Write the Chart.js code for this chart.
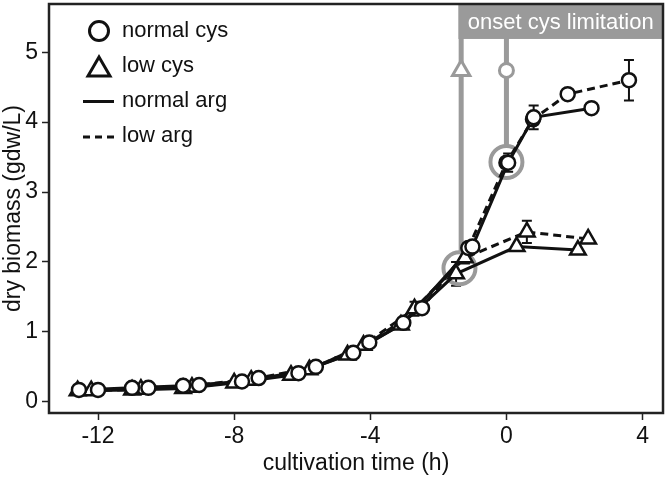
<!DOCTYPE html>
<html>
<head>
<meta charset="utf-8">
<script src="https://cdn.jsdelivr.net/npm/chart.js@4.4.0/dist/chart.umd.min.js"></script>
<style>
  html, body { margin: 0; padding: 0; background: #fff; }
</style>
</head>
<body>
<canvas id="biomass-chart" width="665" height="477"></canvas>
<script>
// cultivation time (h) and dry biomass (gdw/L)
// normal cys + normal arg : circles, solid line
const ncNaTime    = [-12.56, -11.0, -9.5, -7.77, -6.11, -4.5, -3.03, -1.0, 0.05, 0.8, 2.5]
const ncNaBiomass = [0.17, 0.2, 0.23, 0.29, 0.41, 0.7, 1.13, 2.22, 3.42, 4.07, 4.2]
const ncNaErr     = [0, 0, 0, 0, 0, 0, 0, 0, 0.13, 0.17, 0]

// normal cys + low arg : circles, dashed line
const ncLaTime    = [-12.0, -10.52, -9.03, -7.28, -5.6, -4.03, -2.48, -1.12, 0.0, 0.78, 1.8, 3.6]
const ncLaBiomass = [0.17, 0.2, 0.24, 0.34, 0.5, 0.85, 1.34, 2.2, 3.42, 4.04, 4.4, 4.6]
const ncLaErr     = [0, 0, 0, 0, 0, 0, 0, 0, 0, 0, 0, 0.29]

// low cys + normal arg : triangles, solid line
const lcNaTime    = [-12.6, -11.0, -9.5, -8.0, -6.33, -4.67, -3.1, -1.48, 0.3, 2.1]
const lcNaBiomass = [0.16, 0.17, 0.19, 0.27, 0.38, 0.67, 1.1, 1.83, 2.22, 2.17]
const lcNaErr     = [0, 0, 0, 0, 0, 0, 0, 0.17, 0, 0]

// low cys + low arg : triangles, dashed line
const lcLaTime    = [-12.2, -10.74, -9.24, -7.5, -5.79, -4.2, -2.7, -1.22, 0.6, 2.4]
const lcLaBiomass = [0.16, 0.18, 0.21, 0.31, 0.46, 0.81, 1.33, 2.06, 2.43, 2.33]
const lcLaErr     = [0, 0, 0, 0, 0, 0, 0.1, 0.08, 0.16, 0]

// onset of cys limitation (low cys, normal cys)
const onsetTimes       = [-1.33, 0.0]
const onsetMarkerLevel = [4.74, 4.74]
const onsetLineEnds    = [2.15, 3.67]
const highlightTimes   = [-1.38, 0.0]
const highlightBiomass = [1.91, 3.43]
const onsetLabel       = 'onset cys limitation'
const onsetBoxStart    = -1.41
const onsetBoxBottom   = 5.19

const xTicks = [-12, -8, -4, 0, 4]
const yTicks = [0, 1, 2, 3, 4, 5]
const legendLabels = ['normal cys', 'low cys', 'normal arg', 'low arg']

const ink = '#111'
const gray = '#9a9a9a'
const fontFamily = '"Liberation Sans", Arial, sans-serif'

const toPoints = (xs, ys) => xs.map((x, i) => ({ x: x, y: ys[i] }))

const seriesList = [
  { time: ncNaTime, biomass: ncNaBiomass, err: ncNaErr, marker: 'circle', dashed: false },
  { time: ncLaTime, biomass: ncLaBiomass, err: ncLaErr, marker: 'circle', dashed: true },
  { time: lcNaTime, biomass: lcNaBiomass, err: lcNaErr, marker: 'triangle', dashed: false },
  { time: lcLaTime, biomass: lcLaBiomass, err: lcLaErr, marker: 'triangle', dashed: true }
]

let datasets = []

// markers on top
seriesList.forEach((s) => {
  datasets.push({
    data: toPoints(s.time, s.biomass),
    showLine: false,
    pointStyle: s.marker,
    pointRadius: s.marker === 'circle' ? 7 : 9,
    pointBorderWidth: 2.5,
    pointBorderColor: ink,
    pointBackgroundColor: '#fff',
    order: 0
  })
})

// the connecting lines
seriesList.forEach((s) => {
  datasets.push({
    data: toPoints(s.time, s.biomass),
    showLine: true,
    borderColor: ink,
    borderWidth: 3,
    borderDash: s.dashed ? [8, 5] : [],
    pointRadius: 0,
    order: 1
  })
})

// gray onset markers
datasets.push({
  data: toPoints(onsetTimes, onsetMarkerLevel),
  showLine: false,
  pointStyle: ['triangle', 'circle'],
  pointRadius: [10, 7],
  pointBorderWidth: 3,
  pointBorderColor: gray,
  pointBackgroundColor: '#fff',
  order: 0
})

// gray highlight rings
datasets.push({
  data: toPoints(highlightTimes, highlightBiomass),
  showLine: false,
  pointStyle: 'circle',
  pointRadius: 16,
  pointBorderWidth: 4,
  pointBorderColor: gray,
  pointBackgroundColor: 'rgba(0,0,0,0)',
  order: 2
})

// gray vertical onset lines
onsetTimes.forEach((t, i) => {
  datasets.push({
    data: [{ x: t, y: 5.8 }, { x: t, y: onsetLineEnds[i] }],
    showLine: true,
    borderColor: gray,
    borderWidth: 5,
    pointRadius: 0,
    order: 3
  })
})

const errorBars = {
  id: 'errorBars',
  beforeDatasetsDraw(chart) {
    const c = chart.ctx
    const xs = chart.scales.x
    const ys = chart.scales.y
    c.save()
    c.strokeStyle = ink
    c.lineWidth = 2
    seriesList.forEach((s) => {
      s.err.forEach((e, i) => {
        if (!e) return
        const px = xs.getPixelForValue(s.time[i])
        const top = ys.getPixelForValue(s.biomass[i] + e)
        const bot = ys.getPixelForValue(s.biomass[i] - e)
        c.beginPath()
        c.moveTo(px, top); c.lineTo(px, bot)
        c.moveTo(px - 5, top); c.lineTo(px + 5, top)
        c.moveTo(px - 5, bot); c.lineTo(px + 5, bot)
        c.stroke()
      })
    })
    c.restore()
  }
}

const decorations = {
  id: 'decorations',
  afterDatasetsDraw(chart) {
    const c = chart.ctx
    const area = chart.chartArea
    const xs = chart.scales.x
    const ys = chart.scales.y
    c.save()

    // onset box
    const x0 = xs.getPixelForValue(onsetBoxStart)
    const y1 = ys.getPixelForValue(onsetBoxBottom)
    c.fillStyle = gray
    c.fillRect(x0, area.top, area.right - x0, y1 - area.top)
    c.fillStyle = '#fff'
    c.font = '22px ' + fontFamily
    c.textAlign = 'center'
    c.textBaseline = 'middle'
    c.fillText(onsetLabel, (x0 + area.right) / 2, (area.top + y1) / 2 + 1)

    // legend
    c.strokeStyle = ink
    c.lineWidth = 3
    c.beginPath()
    c.arc(99, 31, 9.5, 0, Math.PI * 2)
    c.stroke()
    c.beginPath()
    c.moveTo(99, 57); c.lineTo(110, 76); c.lineTo(88, 76); c.closePath()
    c.stroke()
    c.beginPath()
    c.moveTo(83, 101.5); c.lineTo(114, 101.5)
    c.stroke()
    c.setLineDash([7, 5])
    c.beginPath()
    c.moveTo(83, 137); c.lineTo(114, 137)
    c.stroke()
    c.setLineDash([])

    c.fillStyle = ink
    c.textAlign = 'left'
    const rows = [31, 66, 101, 136]
    legendLabels.forEach((label, i) => {
      c.fillText(label, 122, rows[i])
    })

    // plot frame
    c.strokeStyle = '#222'
    c.lineWidth = 2.5
    c.strokeRect(area.left, area.top, area.right - area.left, area.bottom - area.top)
    c.restore()
  }
}

// keep the label overhang from pushing the plot frame inwards
const noPadding = () => ({ left: 0, top: 0, right: 0, bottom: 0 })

const tickFont = { family: fontFamily, size: 23 }

let ctx = document.getElementById('biomass-chart').getContext('2d')

let chart = new Chart(ctx, {
  type: 'scatter',
  data: { datasets: datasets },
  options: {
    responsive: false,
    animation: false,
    events: [],
    layout: { autoPadding: false, padding: { top: 4, right: 2, left: 0, bottom: 0 } },
    plugins: {
      legend: { display: false },
      tooltip: { enabled: false }
    },
    scales: {
      x: {
        type: 'linear',
        min: -13.44,
        max: 4.6,
        afterBuildTicks: (scale) => { scale.ticks = xTicks.map((v) => ({ value: v })) },
        afterFit: (scale) => {
          scale.height = 64
          scale.paddingLeft = 0
          scale.paddingRight = 0
          scale.getPadding = noPadding
        },
        border: { display: false },
        grid: { drawOnChartArea: false, drawTicks: true, tickLength: 7, tickColor: '#222', tickWidth: 1.5 },
        ticks: { font: tickFont, color: ink, padding: 3, maxRotation: 0 },
        title: { display: true, text: 'cultivation time (h)', font: tickFont, color: ink, padding: 0 }
      },
      y: {
        type: 'linear',
        min: -0.16,
        max: 5.69,
        afterBuildTicks: (scale) => { scale.ticks = yTicks.map((v) => ({ value: v })) },
        afterFit: (scale) => {
          scale.width = 49
          scale.paddingTop = 0
          scale.paddingBottom = 0
          scale.getPadding = noPadding
        },
        border: { display: false },
        grid: { drawOnChartArea: false, drawTicks: true, tickLength: 7, tickColor: '#222', tickWidth: 1.5 },
        ticks: { font: tickFont, color: ink, padding: 4 },
        title: { display: true, text: 'dry biomass (gdw/L)', font: tickFont, color: ink, padding: 0 }
      }
    }
  },
  plugins: [errorBars, decorations]
})
</script>
</body>
</html>
